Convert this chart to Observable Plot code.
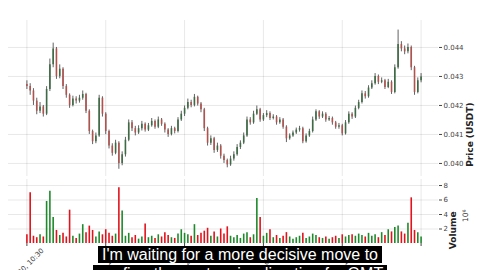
<!DOCTYPE html>
<html><head><meta charset="utf-8">
<script src="https://cdn.jsdelivr.net/npm/d3@7"></script>
<script src="https://cdn.jsdelivr.net/npm/@observablehq/plot@0.6"></script>
<style>
html,body{margin:0;padding:0;background:#fff;width:480px;height:270px;overflow:hidden;}
#wrap{position:relative;width:480px;height:270px;overflow:hidden;}
#price,#vol{position:absolute;left:0;}
#price{top:0;}
#vol{top:176px;}
#cap{position:absolute;left:0;width:480px;top:244.5px;font-family:"Liberation Sans",Arial,sans-serif;font-size:16px;line-height:19px;text-align:center;color:#fff;}
#cap span{background:#000;padding:0 4px;}
svg{overflow:visible;}
</style></head>
<body>
<div id="wrap">
  <div id="price"></div>
  <div id="vol"></div>
  <div id="cap"><div><span>I'm waiting for a more decisive move to</span></div><div><span>confirm the next major direction for GMT</span></div></div>
</div>
<script>
const opens = [0.04272,0.04265,0.04250,0.04215,0.04180,0.04195,0.04170,0.04255,0.04340,0.04395,
0.04300,0.04325,0.04265,0.04235,0.04200,0.04222,0.04215,0.04225,0.04238,0.04180,
0.04110,0.04075,0.04095,0.04225,0.04170,0.04110,0.04060,0.04035,0.04070,0.04000,
0.04030,0.04080,0.04140,0.04120,0.04105,0.04120,0.04135,0.04115,0.04130,0.04145,
0.04125,0.04150,0.04135,0.04115,0.04100,0.04120,0.04110,0.04150,0.04170,0.04190,
0.04210,0.04200,0.04228,0.04205,0.04185,0.04120,0.04070,0.04085,0.04045,0.04060,
0.04025,0.04010,0.03995,0.04015,0.04030,0.04055,0.04070,0.04095,0.04150,0.04140,
0.04170,0.04185,0.04150,0.04165,0.04172,0.04155,0.04160,0.04140,0.04150,0.04125,
0.04085,0.04095,0.04105,0.04115,0.04120,0.04075,0.04095,0.04110,0.04150,0.04178,
0.04160,0.04170,0.04150,0.04155,0.04140,0.04125,0.04130,0.04102,0.04140,0.04170,
0.04160,0.04190,0.04210,0.04240,0.04230,0.04260,0.04275,0.04300,0.04280,0.04285,
0.04262,0.04280,0.04245,0.04330,0.04410,0.04395,0.04385,0.04400,0.04330,0.04245,
0.04285];
const closes = [0.04265,0.04250,0.04215,0.04180,0.04195,0.04170,0.04255,0.04340,0.04395,0.04300,
0.04325,0.04265,0.04235,0.04200,0.04222,0.04215,0.04225,0.04238,0.04180,0.04110,
0.04075,0.04095,0.04225,0.04170,0.04110,0.04060,0.04035,0.04070,0.04000,0.04030,
0.04080,0.04140,0.04120,0.04105,0.04120,0.04135,0.04115,0.04130,0.04145,0.04125,
0.04150,0.04135,0.04115,0.04100,0.04120,0.04110,0.04150,0.04170,0.04190,0.04210,
0.04200,0.04228,0.04205,0.04185,0.04120,0.04070,0.04085,0.04045,0.04060,0.04025,
0.04010,0.03995,0.04015,0.04030,0.04055,0.04070,0.04095,0.04150,0.04140,0.04170,
0.04185,0.04150,0.04165,0.04172,0.04155,0.04160,0.04140,0.04150,0.04125,0.04085,
0.04095,0.04105,0.04115,0.04120,0.04075,0.04095,0.04110,0.04150,0.04178,0.04160,
0.04170,0.04150,0.04155,0.04140,0.04125,0.04130,0.04102,0.04140,0.04170,0.04160,
0.04190,0.04210,0.04240,0.04230,0.04260,0.04275,0.04300,0.04280,0.04285,0.04262,
0.04280,0.04245,0.04330,0.04410,0.04395,0.04385,0.04400,0.04330,0.04245,0.04285,
0.04298];
const highs = [0.04285,0.04275,0.04258,0.04225,0.04210,0.04200,0.04265,0.04360,0.04415,0.04400,
0.04340,0.04330,0.04272,0.04240,0.04232,0.04230,0.04235,0.04250,0.04242,0.04185,
0.04115,0.04105,0.04235,0.04230,0.04175,0.04115,0.04068,0.04080,0.04075,0.04040,
0.04090,0.04150,0.04148,0.04128,0.04130,0.04145,0.04140,0.04138,0.04155,0.04150,
0.04160,0.04155,0.04140,0.04120,0.04128,0.04125,0.04158,0.04180,0.04198,0.04222,
0.04218,0.04238,0.04232,0.04210,0.04190,0.04125,0.04095,0.04090,0.04070,0.04065,
0.04032,0.04015,0.04025,0.04040,0.04065,0.04078,0.04105,0.04160,0.04158,0.04180,
0.04198,0.04190,0.04172,0.04182,0.04178,0.04168,0.04165,0.04158,0.04155,0.04130,
0.04102,0.04112,0.04122,0.04128,0.04125,0.04102,0.04118,0.04160,0.04185,0.04182,
0.04178,0.04175,0.04162,0.04160,0.04145,0.04138,0.04135,0.04148,0.04178,0.04175,
0.04198,0.04218,0.04250,0.04248,0.04268,0.04285,0.04310,0.04305,0.04295,0.04290,
0.04290,0.04285,0.04340,0.04460,0.04420,0.04405,0.04412,0.04405,0.04335,0.04295,
0.04310];
const lows = [0.04255,0.04235,0.04200,0.04168,0.04172,0.04160,0.04165,0.04248,0.04330,0.04290,
0.04292,0.04255,0.04225,0.04190,0.04195,0.04205,0.04208,0.04218,0.04172,0.04100,
0.04065,0.04068,0.04090,0.04160,0.04100,0.04050,0.04025,0.04030,0.03980,0.03992,
0.04022,0.04075,0.04110,0.04095,0.04100,0.04112,0.04108,0.04110,0.04125,0.04118,
0.04120,0.04128,0.04105,0.04090,0.04095,0.04102,0.04105,0.04145,0.04162,0.04185,
0.04192,0.04195,0.04198,0.04175,0.04110,0.04060,0.04062,0.04035,0.04038,0.04015,
0.04000,0.03985,0.03990,0.04008,0.04025,0.04048,0.04065,0.04090,0.04132,0.04135,
0.04165,0.04142,0.04145,0.04158,0.04148,0.04150,0.04132,0.04135,0.04118,0.04072,
0.04080,0.04090,0.04100,0.04108,0.04068,0.04070,0.04090,0.04105,0.04145,0.04152,
0.04155,0.04142,0.04145,0.04132,0.04118,0.04118,0.04095,0.04098,0.04135,0.04152,
0.04155,0.04185,0.04205,0.04222,0.04225,0.04255,0.04270,0.04272,0.04275,0.04255,
0.04258,0.04238,0.04240,0.04325,0.04385,0.04375,0.04378,0.04320,0.04235,0.04240,
0.04278];
const volumes = [1.2,7.0,1.0,0.8,1.2,0.9,5.8,7.2,3.6,1.8,
1.1,1.4,0.9,4.6,1.0,0.7,1.3,2.6,1.5,2.4,
1.8,0.9,1.6,1.2,1.9,1.4,1.0,1.3,7.7,4.5,
1.0,1.4,0.8,1.1,0.6,0.9,2.7,0.8,1.0,0.7,
1.2,0.9,1.5,1.1,0.8,0.7,1.3,1.9,1.4,1.2,
1.0,2.6,1.1,1.4,1.7,2.1,1.0,1.6,0.9,2.0,
1.3,2.3,1.0,0.8,1.1,0.7,1.3,1.5,0.8,1.2,
6.2,3.6,1.0,1.4,1.9,0.8,1.1,0.7,1.0,1.5,
0.9,0.6,0.8,1.0,1.4,0.7,0.9,1.3,1.1,0.8,
0.7,0.9,0.6,0.8,1.0,0.7,1.2,0.9,1.1,1.2,
1.0,1.3,1.1,0.9,1.4,1.0,1.2,0.8,1.5,1.1,
1.9,1.6,2.2,2.4,1.6,1.3,2.8,6.3,1.8,1.5,
0.9];
const tickIdx = [0, 24, 48, 72, 96, 120];
const tickLabels = ["Sep 20, 10:30", "Sep 20, 16:30", "Sep 20, 22:30", "Sep 21, 04:30", "Sep 21, 10:30"];
const priceTicks = [0.040, 0.041, 0.042, 0.043, 0.044];
const volTicks = [2, 4, 6, 8];

const upBody = "#3d6b45", downBody = "#b0524e", wick = "#3a3a3a";
const upVol = "#1f8a2c", downVol = "#e3121c";

const candles = closes.map((c, i) => ({i, o: opens[i], c, h: highs[i], l: lows[i], v: volumes[i], up: c >= opens[i]}));
const xDomain = [-5.6, 125.3];
const grid = {stroke: "#000", strokeOpacity: 0.09};
const font = "DejaVu Sans";

const price = Plot.plot({
  width: 480, height: 176, marginLeft: 8, marginRight: 42, marginTop: 20, marginBottom: 0,
  x: {domain: xDomain, axis: null},
  y: {domain: [0.03955, 0.04493], axis: null},
  style: {fontFamily: font, background: "transparent"},
  marks: [
    Plot.gridY(priceTicks, grid),
    Plot.gridX(tickIdx, grid),
    Plot.axisY(priceTicks, {anchor: "right", tickSize: 3, tickPadding: 2, fontSize: 7, color: "#444", tickFormat: d => d.toFixed(3), label: null}),
    Plot.ruleX(candles, {x: "i", y1: "l", y2: "h", stroke: wick, strokeWidth: 0.8}),
    Plot.ruleX(candles, {x: "i", y1: "o", y2: "c", stroke: d => d.up ? upBody : downBody, strokeWidth: 1.6}),
    Plot.text(["Price (USDT)"], {frameAnchor: "right", dx: 32, dy: 4, rotate: -90, fontWeight: "bold", fontSize: 9, fill: "#222"})
  ]
});
document.getElementById("price").appendChild(price);

const vol = Plot.plot({
  width: 480, height: 100, marginLeft: 8, marginRight: 42, marginTop: 3, marginBottom: 33,
  x: {domain: xDomain, axis: null},
  y: {domain: [0, 8.83], axis: null},
  style: {fontFamily: font, background: "transparent"},
  marks: [
    Plot.gridY(volTicks, grid),
    Plot.gridX(tickIdx, grid),
    Plot.axisY(volTicks, {anchor: "right", tickSize: 3, tickPadding: 2, fontSize: 7, color: "#444", label: null}),
    Plot.axisX(tickIdx, {anchor: "bottom", tickSize: 3, tickFormat: () => "", label: null, color: "#444"}),
    Plot.ruleX(candles, {x: "i", y: "v", stroke: d => d.up ? upVol : downVol, strokeWidth: 1.6}),
    Plot.text(tickLabels, {x: (d, i) => tickIdx[i], frameAnchor: "bottom", dy: 25, rotate: -45, fontSize: 7, fill: "#444"}),
    Plot.text(["Volume"], {frameAnchor: "right", dx: 15, rotate: -90, fontWeight: "bold", fontSize: 9, fill: "#222"}),
    Plot.text(["10⁶"], {frameAnchor: "right", dx: 27, dy: -2, rotate: -90, fontSize: 7.5, fill: "#333"})
  ]
});
document.getElementById("vol").appendChild(vol);
</script>
</body></html>
